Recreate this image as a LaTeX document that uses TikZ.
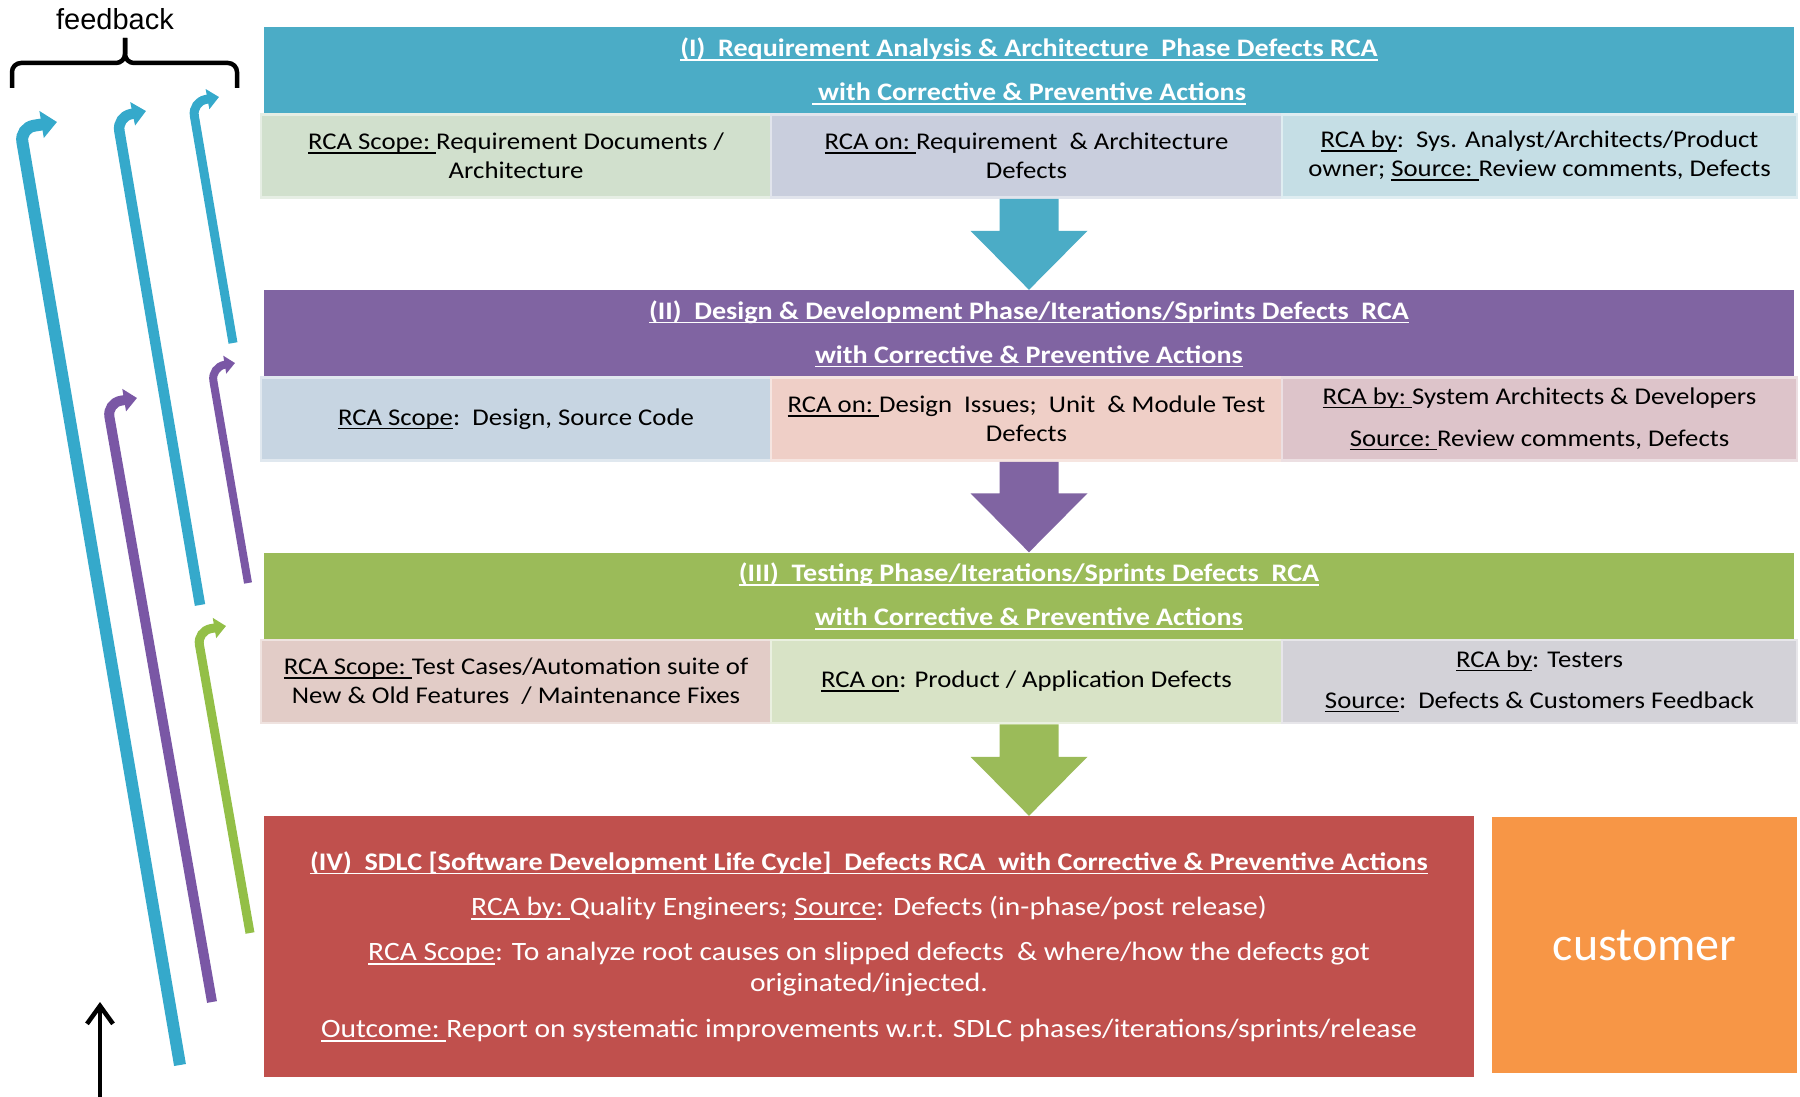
\documentclass[tikz,border=0pt]{standalone}
\usepackage{fontspec}
\setmainfont{Carlito}[FakeStretch=1.115]
\newfontfamily\custfont{Carlito}
\newfontfamily\labelfont{Liberation Sans}
\usetikzlibrary{arrows.meta,calc}

% phase colours
\definecolor{phaseA}{HTML}{4BACC6}
\definecolor{phaseB}{HTML}{8064A2}
\definecolor{phaseC}{HTML}{9BBB59}
\definecolor{phaseD}{HTML}{C0504D}
\definecolor{custcol}{HTML}{F79646}
% cell colours
\definecolor{cellAa}{HTML}{D1E0CD}
\definecolor{cellAb}{HTML}{C9CEDD}
\definecolor{cellAc}{HTML}{C5DEE5}
\definecolor{cellBa}{HTML}{C7D5E2}
\definecolor{cellBb}{HTML}{EFCFC7}
\definecolor{cellBc}{HTML}{DDC4CA}
\definecolor{cellCa}{HTML}{E2CCC7}
\definecolor{cellCb}{HTML}{D8E3C6}
\definecolor{cellCc}{HTML}{D3D2D8}
% feedback arrow colours
\definecolor{fbA}{HTML}{35A9CB}
\definecolor{fbB}{HTML}{7A57A5}
\definecolor{fbC}{HTML}{93BF47}

% underline at a fixed depth below the baseline
\newsavebox\ulbox
\newcommand{\ulx}[1]{\leavevmode\sbox\ulbox{#1}\rlap{\rule[-0.17em]{\wd\ulbox}{0.075em}}\usebox\ulbox}

% block arrow: colour, header above, its cell, target node below
\newcommand{\phasedrop}[4]{%
  \coordinate (tmpS) at (#2.south |- #3.south);
  \coordinate (tmpT) at (#2.south |- #4.north);
  \fill[#1] ($(tmpS)+(-29.5,0)$) -- ($(tmpT)+(-29.5,-59)$) -- ($(tmpT)+(-58.5,-59)$)
    -- (tmpT) -- ($(tmpT)+(58.5,-59)$) -- ($(tmpT)+(29.5,-59)$)
    -- ($(tmpS)+(29.5,0)$) -- cycle;}

\tikzset{
  hdr/.style={fill=#1, minimum width=1530, minimum height=88, inner sep=0pt,
    text=white, align=center, font=\fontsize{25.2}{44}\selectfont\bfseries},
  cell/.style={fill=#1, draw=#1!55!white, line width=2.5, minimum height=83,
    inner sep=0pt, align=center, font=\fontsize{24}{29}\selectfont},
  colone/.style={minimum width=510},
  coltwo/.style={minimum width=511},
  colthree/.style={minimum width=515},
  fb/.style={line width=#1, rounded corners=14,
    -{Triangle[length=0pt 1.3, width=0pt 2.2]}},
}

\begin{document}
\begin{tikzpicture}[x=1pt,y=-1pt]
\useasboundingbox (0,0) rectangle (1800,1097);

% ---- phase I
\node[hdr=phaseA] (hdrA) at (1029,71.5)
  {\ulx{(I)\ \ Requirement Analysis \& Architecture\ \ Phase Defects RCA}\\
   \ulx{\ with Corrective \& Preventive Actions}};
\node[cell=cellAa, colone] (a1) at (516,156)
  {\ulx{RCA Scope:\ }Requirement Documents /\\Architecture};
\node[cell=cellAb, coltwo] (a2) at (1026.5,156)
  {\ulx{RCA on:\ }Requirement\ \ \& Architecture\\Defects};
\node[cell=cellAc, colthree] (a3) at (1539.5,156)
  {\ulx{RCA by}:\ \ Sys. Analyst/Architects/Product\\owner; \ulx{Source:\ }Review comments, Defects};

% ---- phase II
\node[hdr=phaseB] (hdrB) at (1029,334)
  {\ulx{(II)\ \ Design \& Development Phase/Iterations/Sprints Defects\ \ RCA}\\
   \ulx{with Corrective \& Preventive Actions}};
\node[cell=cellBa, colone] (b1) at (516,419)
  {\ulx{RCA Scope}:\ \ Design, Source Code};
\node[cell=cellBb, coltwo] (b2) at (1026.5,419)
  {\ulx{RCA on:\ }Design\ \ Issues;\ \ Unit\ \ \& Module Test\\Defects};
\node[cell=cellBc, colthree] (b3) at (1539.5,419)
  {\ulx{RCA by:\ }System Architects \& Developers\\[13pt]\ulx{Source:\ }Review comments, Defects};

% ---- phase III
\node[hdr=phaseC] (hdrC) at (1029,596.5)
  {\ulx{(III)\ \ Testing Phase/Iterations/Sprints Defects\ \ RCA}\\
   \ulx{with Corrective \& Preventive Actions}};
\node[cell=cellCa, colone] (c1) at (516,681.5)
  {\ulx{RCA Scope:\ }Test Cases/Automation suite of\\New \& Old Features\ \ / Maintenance Fixes};
\node[cell=cellCb, coltwo] (c2) at (1026.5,681.5)
  {\ulx{RCA on}: Product / Application Defects};
\node[cell=cellCc, colthree] (c3) at (1539.5,681.5)
  {\ulx{RCA by}: Testers\\[12pt]\ulx{Source}:\ \ Defects \& Customers Feedback};

% ---- phase IV
\node[fill=phaseD, minimum width=1210, minimum height=261, inner sep=0pt,
  text=white, align=center, font=\fontsize{26.5}{31}\selectfont] (sdlc) at (869,946.5)
  {{\fontsize{25.3}{31}\selectfont\bfseries\ulx{(IV)\ \ SDLC [Software Development Life Cycle]\ \ Defects RCA\ \ with Corrective \& Preventive Actions}}\\[14pt]
   \ulx{RCA by:\ }Quality Engineers; \ulx{Source}: Defects (in-phase/post release)\\[14pt]
   \ulx{RCA Scope}: To analyze root causes on slipped defects\ \ \& where/how the defects got\\
   originated/injected.\\[15pt]
   \ulx{Outcome:\ }Report on systematic improvements w.r.t. SDLC phases/iterations/sprints/release};

\node[fill=custcol, minimum width=305, minimum height=256, inner sep=0pt,
  text=white, font=\custfont\fontsize{48}{58}\selectfont] (cust) at (1644.5,945) {customer};

% ---- block arrows between phases
\phasedrop{phaseA}{hdrA}{a2}{hdrB}
\phasedrop{phaseB}{hdrB}{b2}{hdrC}
\phasedrop{phaseC}{hdrC}{c2}{sdlc}

% ---- feedback loops
\coordinate (fa1s) at (180,1065); \coordinate (fa1c) at (20,128);  \coordinate (fa1t) at (57,122);
\coordinate (fa2s) at (200,605);  \coordinate (fa2c) at (117,117); \coordinate (fa2t) at (146,111);
\coordinate (fa3s) at (233,343);  \coordinate (fa3c) at (192,102); \coordinate (fa3t) at (219,97);
\coordinate (fb1s) at (212,1002); \coordinate (fb1c) at (107,403); \coordinate (fb1t) at (137,398);
\coordinate (fb2s) at (248,583);  \coordinate (fb2c) at (211,367); \coordinate (fb2t) at (235,363);
\coordinate (fc1s) at (250,933);  \coordinate (fc1c) at (197,631); \coordinate (fc1t) at (226,626);

\draw[fbA, fb=12]   (fa1s) -- (fa1c) -- (fa1t);
\draw[fbA, fb=10.5] (fa2s) -- (fa2c) -- (fa2t);
\draw[fbA, fb=9]    (fa3s) -- (fa3c) -- (fa3t);
\draw[fbB, fb=10]   (fb1s) -- (fb1c) -- (fb1t);
\draw[fbB, fb=8]    (fb2s) -- (fb2c) -- (fb2t);
\draw[fbC, fb=9]    (fc1s) -- (fc1c) -- (fc1t);

% ---- brace and label
\node[font=\labelfont\fontsize{29}{34}\selectfont, anchor=base, inner sep=0pt] (fbl) at (115,30) {feedback};
\draw[line width=4.5, rounded corners=9] (12,88) -- (12,63) -- (125,63) -- (125,38);
\draw[line width=4.5, rounded corners=9] (237,88) -- (237,63) -- (125,63) -- (125,38);

% ---- upward arrow
\coordinate (upS) at (100,1097);
\coordinate (upT) at (100,1002);
\draw[line width=4.5, -{Straight Barb[length=18, width=26]}] (upS) -- (upT);
\end{tikzpicture}
\end{document}
